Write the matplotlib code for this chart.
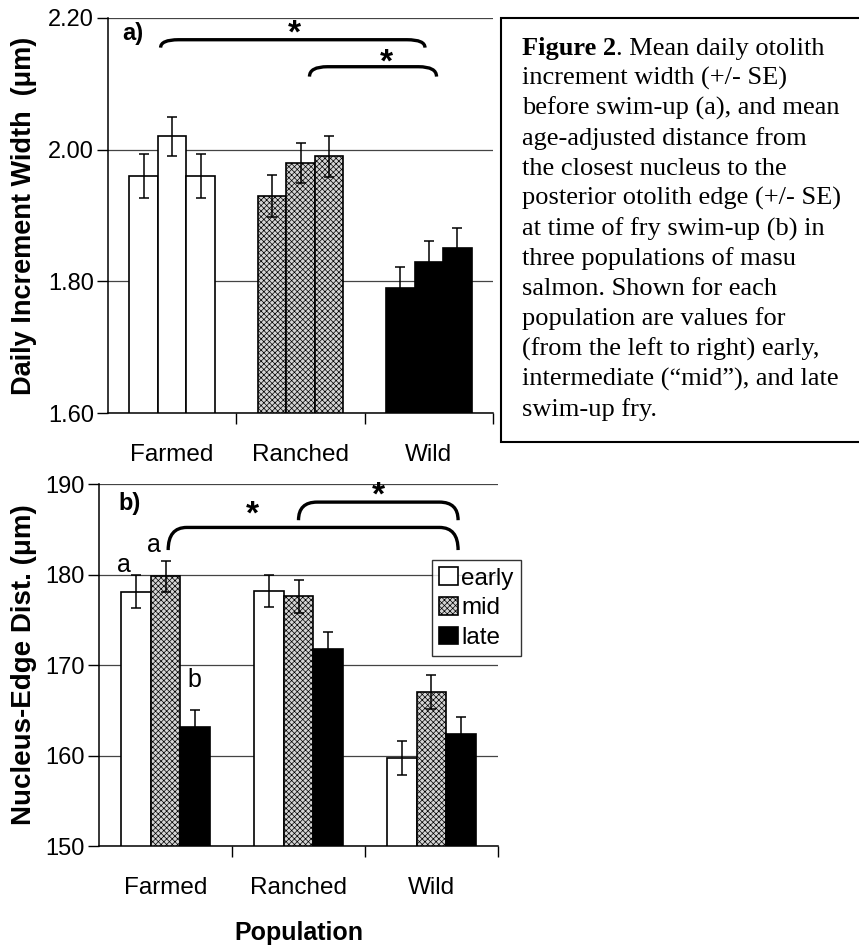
import numpy as np
import matplotlib
matplotlib.use("Agg")
import matplotlib.pyplot as plt
from matplotlib.path import Path
import matplotlib.patches as patches

# Data
populations = ["Farmed", "Ranched", "Wild"]
stages = ["early", "mid", "late"]

# a) daily increment width (um), one list per stage, values per population
width_early = [1.96, 1.93, 1.79]
width_mid = [2.02, 1.98, 1.83]
width_late = [1.96, 1.99, 1.85]
width_se_early = [0.033, 0.032, 0.032]
width_se_mid = [0.030, 0.030, 0.031]
width_se_late = [0.033, 0.031, 0.031]

# b) nucleus-edge distance (um)
dist_early = [178.1, 178.2, 159.7]
dist_mid = [179.8, 177.6, 167.0]
dist_late = [163.1, 171.8, 162.4]
dist_se_early = [1.8, 1.8, 1.9]
dist_se_mid = [1.7, 1.8, 1.9]
dist_se_late = [1.9, 1.8, 1.8]

caption = [
    ". Mean daily otolith",
    "increment width (+/- SE)",
    "before swim-up (a), and mean",
    "age-adjusted distance from",
    "the closest nucleus to the",
    "posterior otolith edge (+/- SE)",
    "at time of fry swim-up (b) in",
    "three populations of masu",
    "salmon. Shown for each",
    "population are values for",
    "(from the left to right) early,",
    "intermediate (\u201cmid\u201d), and late",
    "swim-up fry.",
]

plt.rcParams['font.family'] = ['Liberation Sans', 'DejaVu Sans']
plt.rcParams['hatch.linewidth'] = 0.5

W, H = 859, 947
fig = plt.figure(figsize=(W / 100, H / 100), dpi=100)

def px_axes(left, right, top, bottom):
    return fig.add_axes([left / W, 1 - bottom / H, (right - left) / W, (bottom - top) / H])

styles = [dict(facecolor="white", hatch=None),
          dict(facecolor="#d4d4d4", hatch="xxxxxx"),
          dict(facecolor="black", hatch=None)]

def bracket(ax, x0, x1, y, drop, r=0.14):
    verts = [(x0, y - drop), (x0, y), (x0 + r, y), (x1 - r, y), (x1, y), (x1, y - drop)]
    codes = [Path.MOVETO, Path.CURVE3, Path.CURVE3, Path.LINETO, Path.CURVE3, Path.CURVE3]
    ax.add_patch(patches.PathPatch(Path(verts, codes), facecolor="none",
                                   edgecolor="black", lw=2.4, clip_on=False))

def panel(ax, series, errs, ylim, yticks, fmt, by_population):
    x = np.arange(len(populations))
    bw = 0.222
    bars = []
    for i, (vals, se) in enumerate(zip(series, errs)):
        xpos = x + (i - 1) * bw
        b = ax.bar(xpos, vals, bw, edgecolor="black", linewidth=1.2, zorder=2,
                   label=stages[i], facecolor=styles[i]["facecolor"], hatch=styles[i]["hatch"])
        if by_population:
            # panel a shades bars by population rather than by stage
            for j, rect in enumerate(b.patches):
                rect.set_facecolor(styles[j]["facecolor"])
                rect.set_hatch(styles[j]["hatch"])
        ax.errorbar(xpos, vals, yerr=se, fmt="none", ecolor="black",
                    elinewidth=1.1, capsize=3.5, capthick=1.1, zorder=3)
        bars.append(b)
    ax.set_xlim(-0.5, 2.5)
    ax.set_ylim(*ylim)
    ax.set_yticks(yticks)
    ax.set_yticklabels([fmt.format(v) for v in yticks], fontsize=17)
    ax.set_xticks(x)
    ax.set_xticklabels(populations, fontsize=17.5)
    ax.set_xticks([0.5, 1.5, 2.5], minor=True)
    ax.tick_params(axis="x", which="major", length=0, pad=22)
    ax.tick_params(axis="x", which="minor", length=8, width=1, direction="out")
    ax.tick_params(axis="y", length=8, width=1, direction="out", pad=2)
    ax.yaxis.grid(True, color="#444444", lw=0.9, zorder=0)
    ax.set_axisbelow(True)
    for s in ["top", "right"]:
        ax.spines[s].set_visible(False)
    for s in ["left", "bottom"]:
        ax.spines[s].set_linewidth(1.1)
    return bars

# Panel a
ax1 = px_axes(108, 493, 18, 413)
panel(ax1, [width_early, width_mid, width_late],
      [width_se_early, width_se_mid, width_se_late],
      (1.60, 2.20), [1.60, 1.80, 2.00, 2.20], "{:.2f}", True)
ax1.set_ylabel("Daily Increment Width  (\u03bcm)", fontsize=19.5, fontweight="bold", labelpad=8)
ax1.text(0.036, 0.99, "a)", transform=ax1.transAxes, fontsize=17, fontweight="bold",
         ha="left", va="top")
bracket(ax1, -0.09, 1.97, 2.167, 0.012)
bracket(ax1, 1.07, 2.06, 2.126, 0.015)
ax1.text(0.95, 2.175, "*", fontsize=24, fontweight="bold", ha="center", va="center")
ax1.text(1.67, 2.132, "*", fontsize=24, fontweight="bold", ha="center", va="center")

# Panel b
ax2 = px_axes(99, 498, 484, 846)
bars = panel(ax2, [dist_early, dist_mid, dist_late],
             [dist_se_early, dist_se_mid, dist_se_late],
             (150, 190), [150, 160, 170, 180, 190], "{:.0f}", False)
ax2.set_ylabel("Nucleus-Edge Dist. (\u03bcm)", fontsize=20, fontweight="bold", labelpad=6)
ax2.set_xlabel("Population", fontsize=18, fontweight="bold", labelpad=16)
ax2.text(0.048, 0.978, "b)", transform=ax2.transAxes, fontsize=17, fontweight="bold",
         ha="left", va="top")
bracket(ax2, 0.02, 2.2, 185.2, 2.5)
bracket(ax2, 1.0, 2.2, 188.0, 2.0)
ax2.text(0.65, 186.6, "*", fontsize=24, fontweight="bold", ha="center", va="center")
ax2.text(1.6, 188.7, "*", fontsize=24, fontweight="bold", ha="center", va="center")
ax2.text(-0.31, 181.0, "a", fontsize=18, ha="center", va="center")
ax2.text(-0.09, 183.3, "a", fontsize=18, ha="center", va="center")
ax2.text(0.22, 168.3, "b", fontsize=18, ha="center", va="center")
leg = ax2.legend(handles=bars, loc="upper left", bbox_to_anchor=(432 / W, 1 - 560 / H),
                 bbox_transform=fig.transFigure, fontsize=17.5, frameon=True, fancybox=False,
                 handlelength=0.75, handleheight=0.75, handletextpad=0.15, borderpad=0.3,
                 labelspacing=0.3, borderaxespad=0)
leg.get_frame().set_edgecolor("black")
leg.get_frame().set_linewidth(1.0)

# Caption box
fig.patches.append(patches.Rectangle((501 / W, 1 - 442 / H), 400 / W, (442 - 18) / H,
                                     transform=fig.transFigure, facecolor="white",
                                     edgecolor="black", lw=1.5))
cap_kw = dict(fontsize=19, family=["Liberation Serif", "DejaVu Serif"], va="baseline", ha="left")
head = fig.text(522 / W, 1 - 54.5 / H, "Figure 2", fontweight="bold", **cap_kw)
fig.canvas.draw()
ext = head.get_window_extent()
for i, line in enumerate(caption):
    xpos = ext.x1 / W if i == 0 else 522 / W
    fig.text(xpos, 1 - (54.5 + i * 30.1) / H, line, **cap_kw)

fig.savefig("out.png", dpi=100)
